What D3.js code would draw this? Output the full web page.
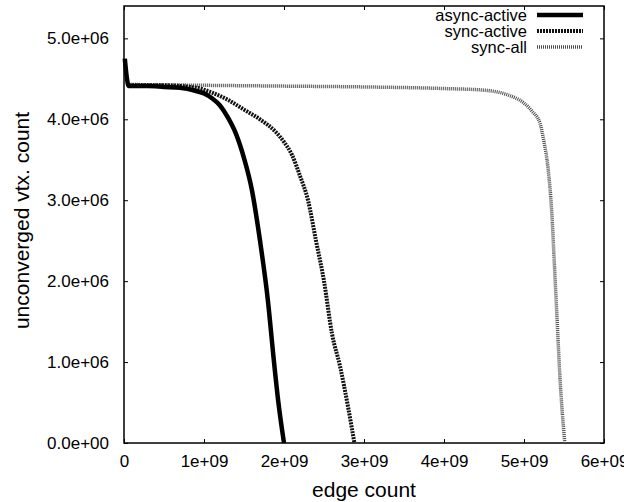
<!DOCTYPE html>
<html>
<head>
<meta charset="utf-8">
<script src="https://cdn.jsdelivr.net/npm/d3@7"></script>
<style>
  body { margin: 0; background: #fff; }
  svg { display: block; font-family: "Liberation Sans", Arial, sans-serif; }
</style>
</head>
<body>
<div class="canvas"></div>
<script>
// values (edges, unconverged vertices)
const asyncActiveX = [0.01e9, 0.06e9, 0.3e9, 0.5e9, 0.7e9, 0.9e9, 1.0e9, 1.1e9, 1.2e9, 1.3e9, 1.4e9, 1.5e9, 1.6e9, 1.7e9, 1.8e9, 1.87e9, 1.93e9, 2.0e9];
const asyncActiveY = [4.75e6, 4.41e6, 4.41e6, 4.40e6, 4.39e6, 4.35e6, 4.32e6, 4.26e6, 4.17e6, 4.02e6, 3.82e6, 3.52e6, 3.12e6, 2.5e6, 1.75e6, 1.05e6, 0.5e6, 0];

const syncActiveX = [0.06e9, 0.5e9, 0.9e9, 1.1e9, 1.3e9, 1.5e9, 1.7e9, 1.9e9, 2.0e9, 2.1e9, 2.2e9, 2.3e9, 2.4e9, 2.5e9, 2.6e9, 2.7e9, 2.8e9, 2.88e9];
const syncActiveY = [4.42e6, 4.42e6, 4.39e6, 4.33e6, 4.24e6, 4.12e6, 4.0e6, 3.84e6, 3.72e6, 3.56e6, 3.3e6, 3.0e6, 2.5e6, 2.0e6, 1.35e6, 0.95e6, 0.45e6, 0];

const syncAllX = [0.06e9, 1e9, 2e9, 3e9, 4e9, 4.5e9, 4.8e9, 5.0e9, 5.1e9, 5.2e9, 5.25e9, 5.3e9, 5.35e9, 5.38e9, 5.41e9, 5.45e9, 5.51e9];
const syncAllY = [4.43e6, 4.42e6, 4.41e6, 4.40e6, 4.38e6, 4.36e6, 4.3e6, 4.2e6, 4.1e6, 3.95e6, 3.72e6, 3.4e6, 2.8e6, 2.2e6, 1.6e6, 0.8e6, 0];

const seriesNames = ['async-active', 'sync-active', 'sync-all'];
const xTicks = [0, 1e9, 2e9, 3e9, 4e9, 5e9, 6e9];
const yTicks = [0, 1e6, 2e6, 3e6, 4e6, 5e6];

var margin = {top: 6, right: 20, bottom: 59, left: 124},
  width = 604 - margin.left,
  height = 443 - margin.top;

var svg = d3.select('.canvas')
  .append('svg')
  .attr('width', 624)
  .attr('height', 502);

const graph = svg.append('g')
  .attr('transform', `translate(${margin.left},${margin.top})`);

// scales
const x = d3.scaleLinear().domain([0, 6e9]).range([0, width]);
const y = d3.scaleLinear().domain([0, 5.4e6]).range([height, 0]);

// gnuplot style tick labels
const expFmt = (v, digits) => {
  if (v === 0) return digits ? '0.0e+00' : '0';
  const e = Math.floor(Math.log10(v));
  const m = v / Math.pow(10, e);
  return (digits ? m.toFixed(1) : Math.round(m)) + 'e+' + String(e).padStart(2, '0');
};

// axes, ticks inward and mirrored
const tick = 4;
graph.append('g')
  .attr('transform', `translate(0,${height})`)
  .call(d3.axisBottom(x).tickValues(xTicks).tickSize(-tick).tickPadding(12).tickFormat(d => expFmt(d, false)));
graph.append('g')
  .call(d3.axisTop(x).tickValues(xTicks).tickSize(-tick).tickFormat(''));
graph.append('g')
  .call(d3.axisLeft(y).tickValues(yTicks).tickSize(-tick).tickPadding(15).tickFormat(d => expFmt(d, true)));
graph.append('g')
  .attr('transform', `translate(${width},0)`)
  .call(d3.axisRight(y).tickValues(yTicks).tickSize(-tick).tickFormat(''));

graph.selectAll('.domain').remove();
graph.selectAll('.tick line').attr('stroke', '#000').attr('stroke-width', 1);
graph.selectAll('.tick text')
  .attr('font-size', 17)
  .attr('font-family', '"Liberation Sans", Arial, sans-serif')
  .attr('fill', '#000');

graph.append('rect')
  .attr('width', width)
  .attr('height', height)
  .attr('fill', 'none')
  .attr('stroke', '#000')
  .attr('stroke-width', 1.5);

// lines
const styles = [
  {stroke: '#000', width: 4.5, dash: null},
  {stroke: '#111', width: 4, dash: '2,1'},
  {stroke: '#4a4a4a', width: 3.5, dash: '1,1'}
];
const series = [
  asyncActiveX.map((d, i) => [d, asyncActiveY[i]]),
  syncActiveX.map((d, i) => [d, syncActiveY[i]]),
  syncAllX.map((d, i) => [d, syncAllY[i]])
];

const line = d3.line()
  .x(d => x(d[0]))
  .y(d => y(d[1]))
  .curve(d3.curveMonotoneX);

[2, 1, 0].forEach(i => {
  graph.append('path')
    .datum(series[i])
    .attr('fill', 'none')
    .attr('stroke', styles[i].stroke)
    .attr('stroke-width', styles[i].width)
    .attr('stroke-dasharray', styles[i].dash)
    .attr('d', line);
});

// legend
const legend = graph.append('g')
  .attr('transform', `translate(${width - 77},9)`);
seriesNames.forEach((name, i) => {
  const row = legend.append('g').attr('transform', `translate(0,${i * 16})`);
  row.append('text')
    .attr('x', 0)
    .attr('y', 0)
    .attr('dy', '0.35em')
    .attr('text-anchor', 'end')
    .attr('font-size', 16.5)
    .text(name);
  row.append('line')
    .attr('x1', 10).attr('x2', 56)
    .attr('stroke', styles[i].stroke)
    .attr('stroke-width', styles[i].width)
    .attr('stroke-dasharray', styles[i].dash);
});

// axis titles
svg.append('text')
  .attr('x', margin.left + width / 2)
  .attr('y', 497)
  .attr('text-anchor', 'middle')
  .attr('font-size', 21)
  .text('edge count');

svg.append('text')
  .attr('transform', `translate(29,${margin.top + height / 2 - 4}) rotate(-90)`)
  .attr('text-anchor', 'middle')
  .attr('font-size', 21)
  .text('unconverged vtx. count');
</script>
</body>
</html>
